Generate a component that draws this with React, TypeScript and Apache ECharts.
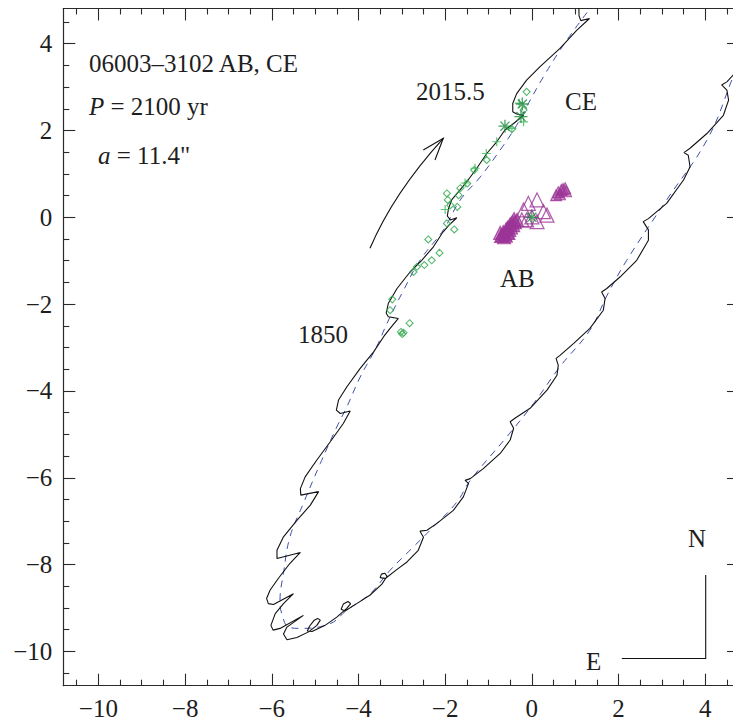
import React, { useEffect, useRef } from "react";
import * as echarts from "echarts";

// ---- axes ----
const xTickLabels = [-10, -8, -6, -4, -2, 0, 2, 4];
const yTickLabels = [-10, -8, -6, -4, -2, 0, 2, 4];
const xRange = [-10.81, 4.78];
const yRange = [-10.79, 4.81];

// ---- CE observed/perturbed orbit (black solid) ----
const orbitCE: number[][] = [
  [1.07, 5.35], [1.09, 4.64], [1.13, 4.53], [1.33, 4.58], [1.04, 4.31], [0.65, 3.89], [0.19, 3.47],
  [-0.12, 3.16], [-0.35, 2.85], [-0.44, 2.62], [-0.44, 2.43], [-0.35, 2.38], [-0.19, 2.35], [-0.42, 2.16],
  [-0.62, 2.01], [-0.81, 1.74], [-1.04, 1.47], [-1.27, 1.13], [-1.5, 0.82], [-1.69, 0.59], [-1.85, 0.4],
  [-1.92, 0.21], [-1.95, 0.03], [-1.88, -0.06], [-1.73, -0.01], [-1.91, -0.18], [-2.05, -0.34], [-2.27, -0.68],
  [-2.54, -0.99], [-2.81, -1.26], [-3.11, -1.64], [-3.31, -1.98], [-3.36, -2.21], [-3.31, -2.29], [-3.08, -2.33],
  [-3.27, -2.56], [-3.42, -2.75], [-3.65, -3.1], [-3.96, -3.48], [-4.27, -3.91], [-4.46, -4.21], [-4.51, -4.44],
  [-4.42, -4.52], [-4.19, -4.46], [-4.35, -4.75], [-4.65, -5.17], [-4.96, -5.59], [-5.23, -5.98], [-5.34, -6.25],
  [-5.33, -6.4], [-4.92, -6.32], [-5.11, -6.63], [-5.42, -6.98], [-5.73, -7.36], [-5.88, -7.67], [-5.88, -7.86],
  [-5.34, -7.72], [-5.58, -7.97], [-5.85, -8.32], [-6.04, -8.59], [-6.12, -8.78], [-6.08, -8.9], [-5.96, -8.92],
  [-5.5, -8.67], [-5.73, -8.9], [-5.92, -9.13], [-6.02, -9.4], [-5.97, -9.51], [-5.81, -9.47], [-5.27, -9.17],
  [-5.65, -9.44], [-5.73, -9.6], [-5.65, -9.73], [-5.42, -9.68], [-5.15, -9.55], [-4.96, -9.4], [-4.88, -9.28],
  [-4.94, -9.24], [-5.02, -9.28], [-5.13, -9.42], [-5.18, -9.53], [-5.07, -9.54], [-4.77, -9.4], [-4.5, -9.21],
  [-4.27, -9.01], [-4.18, -8.9], [-4.24, -8.85], [-4.35, -8.91], [-4.4, -9.03], [-4.31, -9.07], [-4.04, -8.9],
  [-3.73, -8.7], [-3.46, -8.45], [-3.34, -8.27], [-3.39, -8.2], [-3.47, -8.22], [-3.5, -8.3], [-3.38, -8.32],
  [-3.11, -8.11], [-2.88, -7.94], [-2.62, -7.67], [-2.5, -7.37], [-2.58, -7.23], [-2.42, -7.21], [-2.19, -7.05],
  [-1.81, -6.75], [-1.58, -6.44], [-1.46, -6.13], [-1.54, -6.06], [-1.42, -6.02], [-1.12, -5.79], [-0.73, -5.44],
  [-0.5, -5.13], [-0.42, -4.86], [-0.5, -4.71], [-0.39, -4.63], [-0.04, -4.4], [0.35, -3.98], [0.58, -3.64],
  [0.61, -3.41], [0.56, -3.25], [0.65, -3.18], [0.96, -2.91], [1.34, -2.56], [1.65, -2.14], [1.69, -1.87],
  [1.61, -1.72], [1.73, -1.64], [2.04, -1.37], [2.42, -0.99], [2.69, -0.53], [2.69, -0.29], [2.57, -0.1],
  [2.69, -0.03], [3.11, 0.32], [3.5, 0.86], [3.65, 1.16], [3.61, 1.43], [3.51, 1.49], [3.65, 1.59],
  [4.04, 1.93], [4.42, 2.35], [4.54, 2.7], [4.5, 2.93], [4.38, 3.05], [4.5, 3.12], [4.65, 3.28],
  [5.0, 3.7], [5.4, 4.6],
];

// ---- Keplerian model orbit (blue dashed) ----
const orbitModel: number[][] = [
  [1.8, 5.45], [1.31, 4.77], [0.92, 4.24], [0.65, 3.85], [0.27, 3.24], [-0.12, 2.55], [-0.35, 2.12],
  [-0.73, 1.55], [-1.19, 0.93], [-1.65, 0.4], [-2.04, -0.29], [-2.58, -0.99], [-2.96, -1.68], [-3.34, -2.44],
  [-3.58, -2.98], [-3.96, -3.68], [-4.27, -4.37], [-4.5, -4.83], [-4.88, -5.67], [-5.27, -6.59], [-5.58, -7.36],
  [-5.73, -8.2], [-5.81, -8.82], [-5.77, -9.13], [-5.61, -9.44], [-5.34, -9.47], [-4.65, -9.36], [-4.27, -9.05],
  [-3.73, -8.67], [-3.27, -8.13], [-2.73, -7.59], [-2.27, -7.13], [-1.73, -6.56], [-1.42, -6.06], [-0.58, -5.06],
  [0.04, -4.29], [0.65, -3.44], [1.34, -2.6], [1.74, -1.79], [2.19, -0.99], [3.11, 0.4], [4.04, 1.78],
  [4.57, 3.05], [4.95, 4.2], [5.0, 5.2], [4.4, 6.2], [3.2, 6.4], [2.2, 6.0],
];

// ---- CE measurements ----
const ceDiamonds: number[][] = [
  [-0.12, 2.89], [-0.19, 2.47], [-0.46, 2.03], [-1.04, 1.32], [-1.33, 1.09], [-1.49, 0.78], [-1.65, 0.67],
  [-1.69, 0.51], [-1.96, 0.55], [-1.94, 0.4], [-1.88, 0.28], [-1.72, 0.24], [-1.96, -0.14], [-1.79, -0.28],
  [-2.39, -0.51], [-2.13, -0.82], [-2.31, -0.99], [-2.48, -1.1], [-2.65, -1.14], [-2.73, -1.26], [-3.22, -1.89],
  [-3.27, -2.14], [-2.82, -2.44], [-2.96, -2.66], [-3.02, -2.64], [-2.99, -2.69],
];
const ceAsterisks: number[][] = [[-0.22, 2.61], [-0.25, 2.32], [-0.62, 2.1], [0.0, 0.0]];
const cePluses: number[][] = [
  [-0.19, 2.2], [-0.29, 2.63], [-0.46, 2.05], [-0.81, 1.74], [-1.05, 1.47], [-1.31, 1.13], [-1.54, 0.79], [-2.0, 0.18],
];

// ---- AB measurements ----
const abBlob: number[][] = [
  [-0.62, -0.39], [-0.66, -0.34], [-0.57, -0.34], [-0.59, -0.27], [-0.52, -0.29], [-0.55, -0.23], [-0.48, -0.23],
  [-0.5, -0.16], [-0.43, -0.18], [-0.45, -0.11], [-0.39, -0.11], [-0.41, -0.04], [-0.34, -0.06], [-0.71, -0.43],
  [-0.64, -0.46], [-0.73, -0.36], [-0.68, -0.41], [-0.6, -0.42], [-0.54, -0.36],
];
const abOpen: number[][] = [
  [-0.08, 0.32], [0.12, 0.4], [0.27, 0.13], [0.35, 0.05], [0.0, 0.01], [-0.19, 0.17], [0.12, -0.1], [-0.23, -0.06], [-0.12, -0.06],
];
const abRight: number[][] = [[0.61, 0.58], [0.68, 0.63], [0.72, 0.65], [0.77, 0.67], [0.65, 0.53], [0.56, 0.51], [0.79, 0.6]];

const SERIF = "'Liberation Serif', 'DejaVu Serif', serif";
const TXT = "#1e1e1e";
const AX = "#2a2a2a";

function minorOf(major: number[]): number[] {
  const out: number[] = [];
  for (let v = major[0] - 0.5; v <= major[major.length - 1] + 0.5 + 1e-9; v += 0.5) {
    const r = Math.round(v * 10) / 10;
    if (!major.includes(r)) out.push(r);
  }
  return out;
}

const fmt = (v: number) => (v < 0 ? "\u2212" + Math.abs(v) : String(v));

function makeAxis(range: number[], position: string, ticks: number[], len: number, line: boolean, labels: boolean, dim: string) {
  return {
    type: "value",
    position,
    min: range[0],
    max: range[1],
    axisLine: { show: line, onZero: false, lineStyle: { color: AX, width: 1.2 } },
    axisTick: { show: true, inside: true, length: len, customValues: ticks, lineStyle: { color: AX, width: 1.1 } },
    minorTick: { show: false },
    splitLine: { show: false },
    axisLabel: labels
      ? {
          show: true,
          customValues: ticks,
          formatter: fmt,
          margin: dim === "x" ? 14 : 11,
          lineHeight: 18,
          fontSize: 25,
          fontFamily: SERIF,
          color: TXT,
        }
      : { show: false },
  };
}

export default function App() {
  const ref = useRef<HTMLDivElement>(null);
  useEffect(() => {
    if (!ref.current) return;
    const chart = echarts.init(ref.current, undefined, { renderer: "svg" });
    const xMinor = minorOf(xTickLabels);
    const yMinor = minorOf(yTickLabels);
    const txt = (x: number, y: number, text: string, extra: any = {}) => ({
      type: "text",
      x,
      y,
      z: 20,
      style: { text, fontSize: 25, fontFamily: SERIF, fill: TXT, align: "left", verticalAlign: "middle", ...extra },
    });
    const rich = {
      i: { fontStyle: "italic", fontSize: 25, fontFamily: SERIF, fill: TXT },
      n: { fontSize: 25, fontFamily: SERIF, fill: TXT },
    };
    chart.setOption({
      animation: false,
      backgroundColor: "#ffffff",
      grid: { left: 63.3, top: 8.5, width: 675.7, height: 677.2, containLabel: false, outerBoundsMode: "none" },
      xAxis: [
        makeAxis(xRange, "bottom", xTickLabels, 12, true, true, "x"),
        makeAxis(xRange, "bottom", xMinor, 6, false, false, "x"),
        makeAxis(xRange, "top", xTickLabels, 12, true, false, "x"),
        makeAxis(xRange, "top", xMinor, 6, false, false, "x"),
      ],
      yAxis: [
        makeAxis(yRange, "left", yTickLabels, 12, true, true, "y"),
        makeAxis(yRange, "left", yMinor, 6, false, false, "y"),
        makeAxis(yRange, "right", yTickLabels, 12, true, false, "y"),
        makeAxis(yRange, "right", yMinor, 6, false, false, "y"),
      ],
      series: [
        {
          type: "line",
          data: orbitModel,
          smooth: 0.4,
          symbol: "none",
          clip: true,
          silent: true,
          z: 2,
          lineStyle: { color: "#3d4fae", width: 1, type: [7, 6] },
        },
        {
          type: "line",
          data: orbitCE,
          symbol: "none",
          clip: true,
          silent: true,
          z: 3,
          lineStyle: { color: "#111111", width: 1.1 },
        },
        {
          type: "scatter",
          data: ceDiamonds,
          symbol: "diamond",
          symbolSize: 7,
          z: 4,
          itemStyle: { color: "rgba(0,0,0,0)", borderColor: "#2ca64a", borderWidth: 1.1 },
        },
        {
          type: "scatter",
          data: cePluses,
          symbol: "path://M0,-10L0,10M-10,0L10,0",
          symbolSize: 9,
          z: 5,
          itemStyle: { color: "rgba(0,0,0,0)", borderColor: "#35b957", borderWidth: 1.2 },
        },
        {
          type: "scatter",
          data: abBlob,
          symbol: "triangle",
          symbolSize: 13,
          z: 4,
          itemStyle: { color: "rgba(156,52,151,0.7)", borderColor: "#9c3497", borderWidth: 1.2 },
        },
        {
          type: "scatter",
          data: abOpen,
          symbol: "triangle",
          symbolSize: 14,
          z: 4,
          itemStyle: { color: "rgba(0,0,0,0)", borderColor: "#9c3497", borderWidth: 1.2 },
        },
        {
          type: "scatter",
          data: abRight,
          symbol: "triangle",
          symbolSize: 11,
          z: 4,
          itemStyle: { color: "rgba(156,52,151,0.55)", borderColor: "#9c3497", borderWidth: 1.1 },
        },
        {
          type: "scatter",
          data: ceAsterisks,
          symbol: "path://M0,-10L0,10M-10,0L10,0M-7,-7L7,7M-7,7L7,-7",
          symbolSize: 13,
          z: 6,
          itemStyle: { color: "rgba(0,0,0,0)", borderColor: "#1c8a3c", borderWidth: 1.3 },
        },
      ],
      graphic: [
        txt(89, 63.3, "06003\u20133102 AB, CE"),
        txt(89, 106.7, "", { text: "{i|P}{n| = 2100 yr}", rich }),
        txt(98, 155, "", { text: '{i|a}{n| = 11.4"}', rich }),
        txt(416, 91.7, "2015.5"),
        txt(565, 101.7, "CE"),
        txt(500, 278.5, "AB"),
        txt(298, 334, "1850"),
        txt(688, 538.3, "N"),
        txt(586, 661, "E"),
        {
          type: "bezierCurve",
          z: 20,
          shape: { x1: 370, y1: 248.3, x2: 443.3, y2: 138.3, cpx1: 393.3, cpy1: 193.3 },
          style: { stroke: "#111", lineWidth: 1.1, fill: "none" },
        },
        {
          type: "polyline",
          z: 20,
          shape: { points: [[423.3, 150], [443.3, 138.3], [435, 160]] },
          style: { stroke: "#111", lineWidth: 1.1, fill: "none" },
        },
        {
          type: "polyline",
          z: 20,
          shape: { points: [[621.8, 658.5], [705.7, 658.5], [705.7, 575]] },
          style: { stroke: "#111", lineWidth: 1.1, fill: "none" },
        },
      ],
    });
    return () => chart.dispose();
  }, []);
  return <div ref={ref} style={{ position: "fixed", left: 0, top: 0, width: 733, height: 721, background: "#fff" }} />;
}
